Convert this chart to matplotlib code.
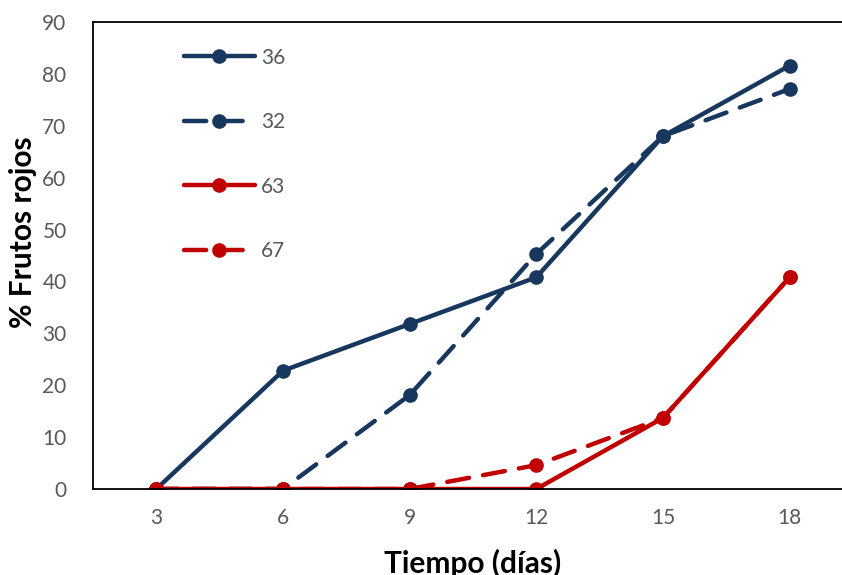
import matplotlib.pyplot as plt

# Días de muestreo y % de frutos rojos por tratamiento
dias = [3, 6, 9, 12, 15, 18]
serie_36 = [0, 22.8, 31.8, 40.8, 68.0, 81.6]
serie_32 = [0, 0, 18.1, 45.3, 68.0, 77.1]
serie_63 = [0, 0, 0, 0, 13.7, 40.8]
serie_67 = [0, 0, 0, 4.6, 13.7, 40.8]

azul = '#17375E'
rojo = '#C00000'
gris = '#595959'

plt.rcParams['font.family'] = ['Lato', 'DejaVu Sans']

fig = plt.figure(figsize=(8.42, 5.75), dpi=100)
ax = fig.add_axes([93 / 842, 1 - 489 / 575, 760 / 842, 467 / 575])

estilo = dict(linewidth=3.2, marker='o', markersize=9.5,
              solid_capstyle='round', dash_capstyle='round')
guion = (5, 3.2)

ax.plot(dias, serie_36, color=azul, label='36', **estilo)
ax.plot(dias, serie_32, color=azul, label='32', linestyle=(0, guion), **estilo)
ax.plot(dias, serie_67, color=rojo, label='67', linestyle=(0, guion), **estilo)
ax.plot(dias, serie_63, color=rojo, label='63', **estilo)

ax.set_xlim(1.5, 19.5)
ax.set_ylim(0, 90)
ax.set_xticks(dias)
ax.set_yticks(range(0, 91, 10))
ax.tick_params(length=0, labelsize=15, labelcolor=gris)
ax.tick_params(axis='x', pad=14)
ax.tick_params(axis='y', pad=19)

for lado in ['left', 'top', 'bottom']:
    ax.spines[lado].set_color('black')
    ax.spines[lado].set_linewidth(1.3)
ax.spines['right'].set_visible(False)

ax.set_xlabel('Tiempo (días)', fontsize=21.5, fontweight='bold', va='center')
ax.set_ylabel('% Frutos rojos', fontsize=21.5, fontweight='bold', va='center')
ax.xaxis.set_label_coords(0.5, -0.16)
ax.yaxis.set_label_coords(-0.092, 0.55)

# Orden de la leyenda: 36, 32, 63, 67
h, l = ax.get_legend_handles_labels()
orden = [0, 1, 3, 2]
ax.legend([h[i] for i in orden], [l[i] for i in orden],
          loc='upper left', bbox_to_anchor=(0.095, 0.985), frameon=False,
          fontsize=15, labelcolor=gris, handlelength=3.4,
          handletextpad=0.3, labelspacing=2.13)

fig.savefig('out.png', dpi=100)
